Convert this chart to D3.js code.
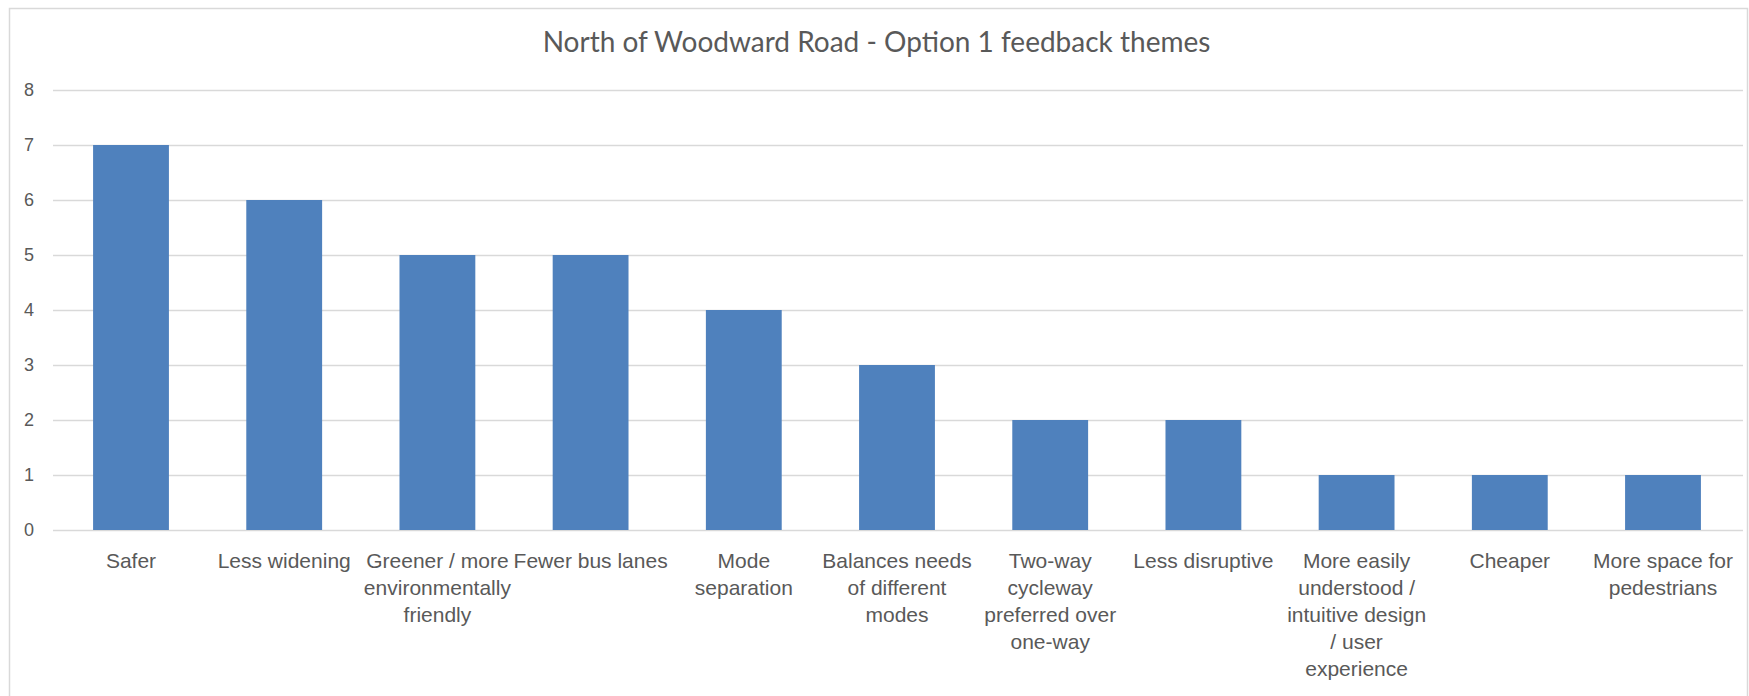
<!DOCTYPE html>
<html><head><meta charset="utf-8">
<script src="https://cdn.jsdelivr.net/npm/d3@7"></script>
<style>
html,body{margin:0;padding:0;background:#fff;}
svg{display:block;font-family:Lato, "Open Sans", sans-serif;}
</style></head>
<body>
<svg id="chart" width="1749" height="696"></svg>
<script>
const title = "North of Woodward Road - Option 1 feedback themes";
const categories = [
  "Safer",
  "Less widening",
  "Greener / more\nenvironmentally\nfriendly",
  "Fewer bus lanes",
  "Mode\nseparation",
  "Balances needs\nof different\nmodes",
  "Two-way\ncycleway\npreferred over\none-way",
  "Less disruptive",
  "More easily\nunderstood /\nintuitive design\n/ user\nexperience",
  "Cheaper",
  "More space for\npedestrians"
];
const values = [7, 6, 5, 5, 4, 3, 2, 2, 1, 1, 1];
const yTicks = [0, 1, 2, 3, 4, 5, 6, 7, 8];

const svg = d3.select("#chart");
const W = 1749, H = 696;
const grid = {left: 53, right: 1743};
const plot = {left: 54.4, right: 1739.6, top: 90, bottom: 530};

svg.append("rect").attr("x", 9.5).attr("y", 8.5).attr("width", W - 11).attr("height", H + 20)
  .attr("fill", "#fff").attr("stroke", "#d9d9d9").attr("stroke-width", 1.5);

const x = d3.scaleBand().domain(categories).range([plot.left, plot.right]).paddingInner(0.505).paddingOuter(0.2525);
const y = d3.scaleLinear().domain([0, 8]).range([plot.bottom, plot.top]);

// gridlines + y labels
const yAxis = d3.axisLeft(y).tickValues(yTicks).tickSize(-(grid.right - grid.left)).tickPadding(19).tickFormat(d3.format("d"));
const gy = svg.append("g").attr("transform", `translate(${grid.left},0)`).call(yAxis);
gy.select(".domain").remove();
gy.selectAll(".tick line").attr("stroke", "#d9d9d9").attr("stroke-width", 1.5);
gy.selectAll(".tick text").attr("fill", "#595959").attr("font-size", 18);

// bars
svg.append("g").selectAll("rect").data(values).join("rect")
  .attr("x", (d, i) => x(categories[i]))
  .attr("width", x.bandwidth())
  .attr("y", d => y(d))
  .attr("height", d => y(0) - y(d))
  .attr("fill", "#4f81bd");

// x axis labels
const xAxis = d3.axisBottom(x).tickSize(0).tickPadding(0);
const gx = svg.append("g").attr("transform", `translate(0,${y(0)})`).call(xAxis);
gx.select(".domain").remove();
gx.selectAll(".tick text").each(function(d) {
  const t = d3.select(this);
  t.text(null).attr("fill", "#595959").attr("font-size", 21).attr("y", 0).attr("dy", null);
  d.split("\n").forEach((line, k) => {
    t.append("tspan").attr("x", 0).attr("y", 38 + k * 27).text(line);
  });
});

svg.append("text").attr("x", W / 2 + 2).attr("y", 52).attr("text-anchor", "middle")
  .attr("fill", "#595959").attr("font-size", 28).text(title);
</script>
</body></html>
